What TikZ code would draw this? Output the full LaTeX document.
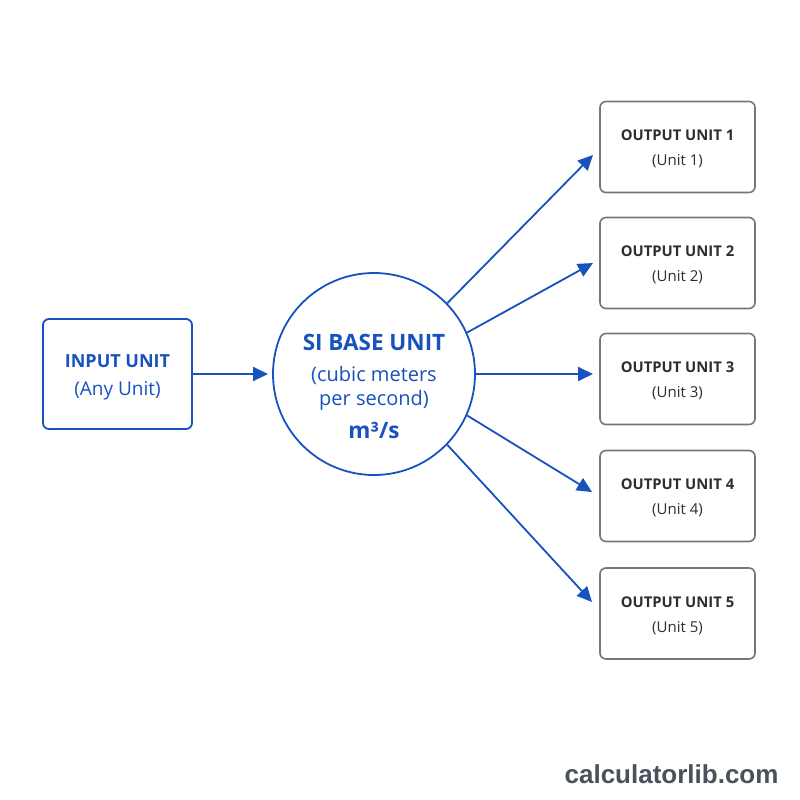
\documentclass[tikz,border=0pt]{standalone}
\usepackage{fontspec}
\setmainfont{Open Sans}
\newfontfamily\footfont{Liberation Sans}
\usetikzlibrary{arrows.meta}
\definecolor{mainblue}{HTML}{1752BE}
\definecolor{boxgray}{HTML}{767676}
\definecolor{textgray}{HTML}{2E2E2E}
\definecolor{footgray}{HTML}{4A515C}
\tikzset{
  inbox/.style={draw=mainblue, line width=1.8pt, rounded corners=6pt, minimum width=149pt, minimum height=110pt, inner sep=0pt},
  intext/.style={text=mainblue, align=center, inner sep=0pt, font=\fontsize{18}{28}\selectfont},
  outbox/.style={draw=boxgray, line width=1.6pt, rounded corners=6pt, minimum width=155pt, minimum height=91pt, inner sep=0pt},
  outtext/.style={text=textgray, align=center, inner sep=0pt, font=\fontsize{15}{25}\selectfont},
  sicircle/.style={draw=mainblue, line width=1.8pt, circle, minimum size=202pt, inner sep=0pt},
  sitext/.style={text=mainblue, align=center, inner sep=0pt, font=\fontsize{20}{24}\selectfont},
  conn/.style={draw=mainblue, line width=1.8pt, -{Triangle[length=15pt,width=14pt]}},
}
\newcommand{\ob}[1]{{\fontsize{14.8}{25}\selectfont\bfseries #1}}
\begin{document}
\begin{tikzpicture}[x=1pt,y=-1pt]
\useasboundingbox (0,0) rectangle (800,800);
\fill[white] (0,0) rectangle (800,800);
\node[inbox] (in) at (117.5,374) {};
\node[intext] (int) at ([yshift=-3pt]in.center) {\textbf{INPUT UNIT}\\{\fontsize{19}{28}\selectfont (Any Unit)}};
\node[sicircle] (si) at (374,374) {};
\node[sitext] (sit) at ([yshift=-12pt]si.center) {{\fontsize{22.5}{24}\selectfont\bfseries SI BASE UNIT}\\[7pt](cubic meters\\per second)\\[9pt]{\fontsize{22.5}{24}\selectfont\bfseries m³/s}};
\foreach \i/\y in {1/147,2/263,3/379,4/496,5/613.5}{
  \node[outbox] (o\i) at (677.5,\y) {};
  \node[outtext] (o\i t) at ([yshift=-2pt]o\i.center) {\ob{OUTPUT UNIT \i}\\(Unit \i)};
}
\coordinate (e0) at (268,374);
\coordinate (e1) at (593,155);
\coordinate (e2) at (593,263);
\coordinate (e3) at (593,374);
\coordinate (e4) at (592,492);
\coordinate (e5) at (592,602);
\draw[conn] (in.east |- e0) -- (e0);
\draw[conn] (si.44) -- (e1);
\draw[conn] (si.24) -- (e2);
\draw[conn] (si.0) -- (e3);
\draw[conn] (si.-24) -- (e4);
\draw[conn] (si.-44) -- (e5);
\node[text=footgray, font=\footfont\bfseries\fontsize{26}{30}\selectfont, anchor=east] (foot) at (782,774) {calculatorlib.com};
\end{tikzpicture}
\end{document}
